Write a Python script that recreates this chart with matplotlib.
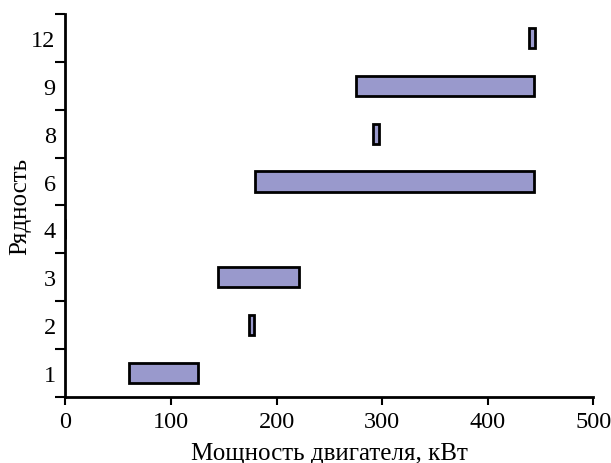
import numpy as np
import matplotlib.pyplot as plt
from matplotlib.ticker import FixedLocator, NullFormatter

plt.rcParams['font.family'] = ['Liberation Serif', 'DejaVu Serif']

# engine power ranges by number of rows
rows = ['1', '2', '3', '4', '6', '8', '9', '12']
power_min = [60, 174, 145, 0, 180, 291.5, 275, 439.5]
power_max = [126, 179, 221, 0, 444, 297, 444, 444.5]

fig = plt.figure(figsize=(6.11, 4.64), dpi=100)
ax = fig.add_axes([0.107, 0.142, 0.864, 0.826])

pos = np.arange(len(rows))
widths = np.array(power_max) - np.array(power_min)
ax.barh(pos, widths, left=power_min, height=0.42,
        color='#9999cc', edgecolor='black', linewidth=2, zorder=3)

ax.set_xlim(0, 500)
ax.set_ylim(-0.5, len(rows) - 0.5)
ax.set_xticks([0, 100, 200, 300, 400, 500])

# ticks sit between categories, labels in the middle
ax.yaxis.set_major_locator(FixedLocator(np.arange(-0.5, len(rows), 1.0)))
ax.yaxis.set_major_formatter(NullFormatter())
ax.yaxis.set_minor_locator(FixedLocator(pos))
ax.set_yticklabels(rows, minor=True)
ax.tick_params(axis='y', which='minor', length=0, labelsize=17.5, pad=7)
ax.tick_params(axis='y', which='major', length=7, width=1.5, direction='out')
ax.tick_params(axis='x', length=6, width=1.5, direction='out', labelsize=17.5, pad=4)

for s in ['top', 'right']:
    ax.spines[s].set_visible(False)
for s in ['left', 'bottom']:
    ax.spines[s].set_linewidth(2)

ax.set_xlabel('Мощность двигателя, кВт', fontsize=18)
ax.set_ylabel('Рядность', fontsize=18)
ax.xaxis.set_label_coords(0.5, -0.118)
ax.yaxis.set_label_coords(-0.064, 0.5)

plt.savefig('out.png', dpi=100)
